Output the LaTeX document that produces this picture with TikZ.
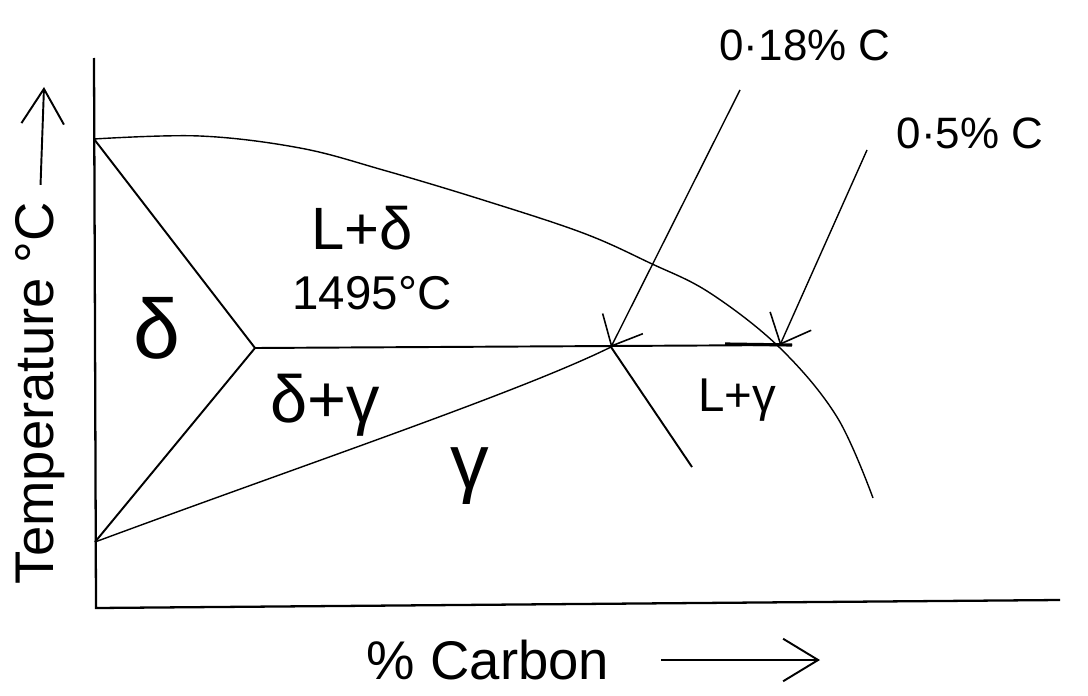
\documentclass[tikz,border=0pt]{standalone}
\usepackage{fontspec}
\setmainfont{Liberation Sans}
\usetikzlibrary{arrows.meta, positioning}

\begin{document}
\begin{tikzpicture}[
    x=0.02cm, y=-0.02cm,
    every node/.style={inner sep=1pt},
    axis/.style={line width=1.3pt},
    boundary/.style={line width=1.1pt},
    curve/.style={line width=0.8pt},
    pointer/.style={line width=0.8pt, -{Straight Barb[length=5mm, width=9mm, line width=0.9pt]}},
    labelarrow/.style={line width=1.1pt, -{Straight Barb[length=7mm, width=8.5mm]}},
    phase/.style={font=\fontsize{34}{38}\selectfont},
    note/.style={font=\fontsize{25}{28}\selectfont}
]
\useasboundingbox (0,0) rectangle (1088,696);

% Points of the diagram
\coordinate (ytop) at (94,58);
\coordinate (origin) at (96,608);
\coordinate (xend) at (1060,600);
\coordinate (melt) at (94,139);
\coordinate (delta) at (255,348);
\coordinate (gammafe) at (95,542);
\coordinate (peri) at (611,347);
\coordinate (liqpt) at (780,345);
\coordinate (lineend) at (792,345);
\coordinate (soldend) at (692,467);
\coordinate (liqend) at (873,498);

% Axes
\draw[axis] (ytop) -- (origin) -- (xend);

% Phase boundaries
\draw[boundary] (melt) -- (delta);
\draw[boundary] (gammafe) -- (delta);
\draw[boundary] (delta) -- (lineend);
\draw[line width=1.8pt] (725,344) -- (lineend);
\draw[boundary] (peri) -- (soldend);
\draw[curve] (gammafe) .. controls (300,466) and (520,392) .. (peri);
\draw[curve] plot[smooth, tension=0.6] coordinates {(94,139) (200,136) (300,148) (383,170) (483,200) (583,233) (650,263) (710,293) (780,348) (837,417) (873,498)};

% Phase labels
\node (deltaalone) [font=\fontsize{48}{52}\selectfont] at (157,328) {δ};
\node (ldelta) [phase] at (362,228) {L+δ};
\node (temp1495) [font=\fontsize{27}{30}\selectfont] at (372,293) {1495°C};
\node (deltagamma) [phase, font=\fontsize{38}{42}\selectfont] at (325,405) {δ+γ};
\node (gammaalone) [font=\fontsize{44}{48}\selectfont] at (470,476) {γ};
\node (lgamma) [font=\fontsize{27}{30}\selectfont] at (737,400) {L+γ};

% Composition pointers
\node (c018) [note] at (805,45) {0·18\% C};
\node (c05) [note] at (970,133) {0·5\% C};
\coordinate (p018) at (740,90);
\coordinate (p05) at (867,150);
\draw[pointer] (p018) -- (peri);
\draw[pointer] (p05) -- (liqpt);

% Axis titles
\node (temp) [rotate=90, font=\fontsize{31}{34}\selectfont] at (40,393) {Temperature °C};
\coordinate (temptip) at (44,87);
\draw[labelarrow, shorten <=0.3cm] (temp.east) -- (temptip);
\node (carbon) [font=\fontsize{31}{34}\selectfont] at (488,660) {\% Carbon};
\coordinate (carbontip) at (820,660);
\draw[labelarrow, shorten <=1cm] (carbon.east) -- (carbontip);

\end{tikzpicture}
\end{document}
